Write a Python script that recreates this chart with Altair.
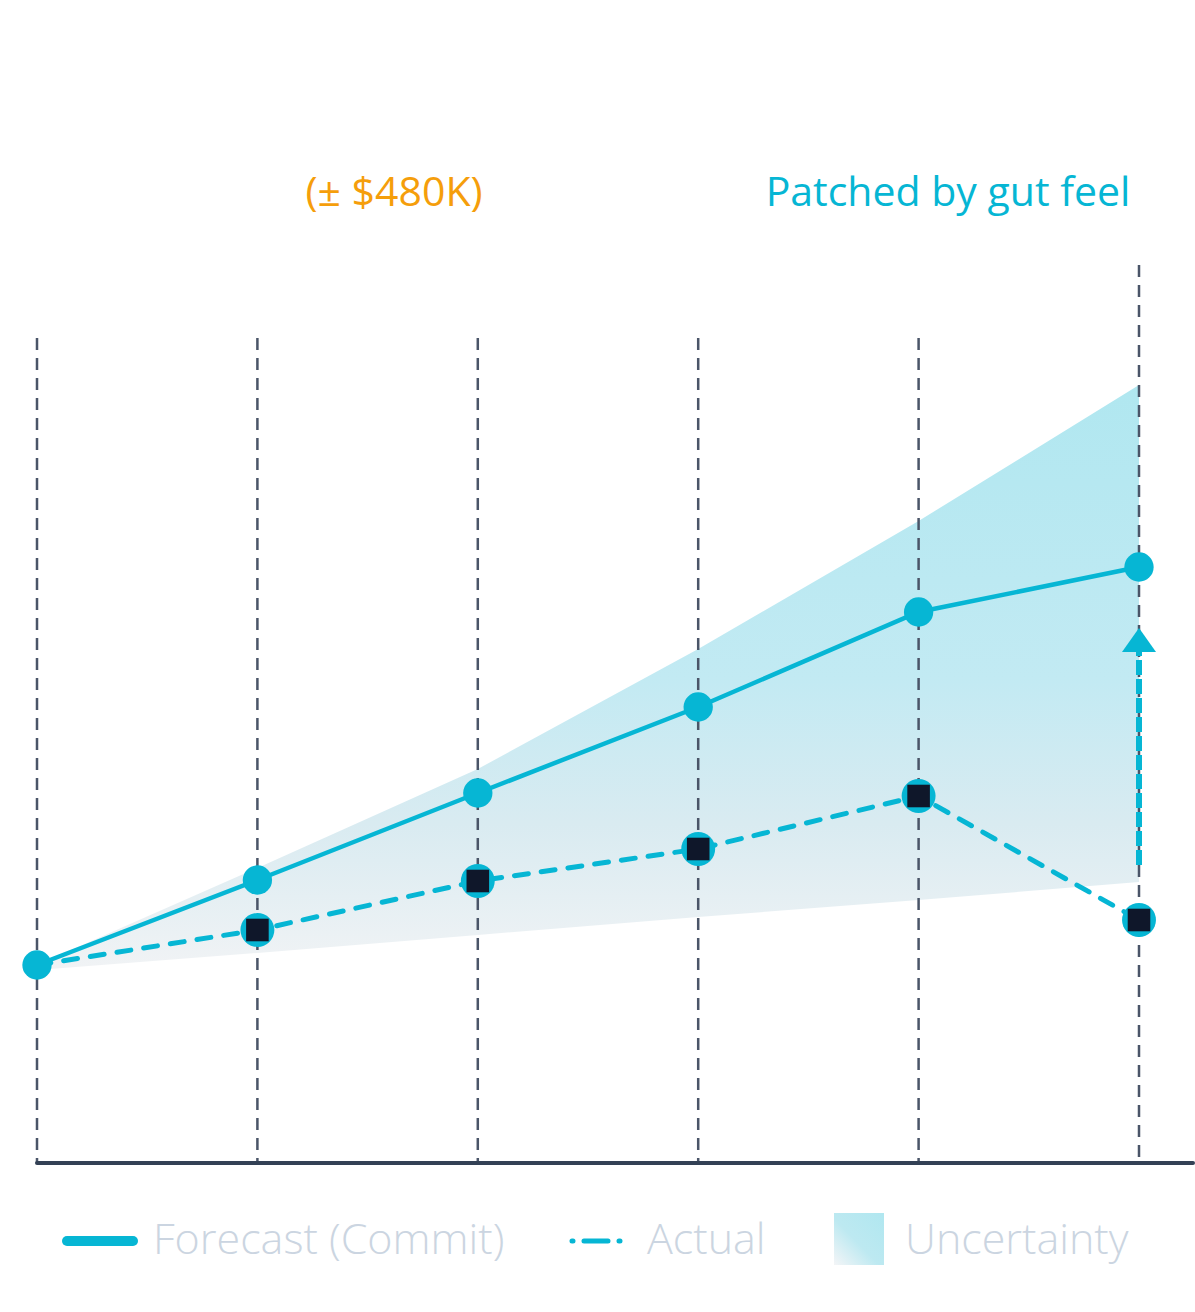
import altair as alt
import pandas as pd

# ---- data ----
quarters = [0, 1, 2, 3, 4, 5]
forecast = [198, 283, 370, 456, 551, 596]
actual = [198, 233, 282, 314, 367, 243]
band_upper = [198, 295, 394, 514, 642, 778]
band_lower = [193, 210, 228, 246, 263, 281]
grid_top = [825, 825, 825, 825, 825, 898]
baseline_end = [5.245]
arrow_from = [298]
arrow_to = [511]
arrow_head = [523]
annotation_left = ["(± $480K)"]
annotation_right = ["Patched by gut feel"]
legend_labels = ["Forecast (Commit)", "Actual", "Uncertainty"]

CYAN = "#06b6d4"
DARK = "#0f172a"
GRID = "#4a5568"
BASE = "#334155"
LEGEND_TXT = "#cbd5e1"
ORANGE = "#f59e0b"
FONT = "Open Sans"

df = pd.DataFrame(dict(q=quarters, forecast=forecast, actual=actual,
                       hi=band_upper, lo=band_lower, top=grid_top))

xs = alt.Scale(domain=[0, 5], nice=False, zero=False)
ys = alt.Scale(domain=[0, 900], nice=False, zero=False)
X = alt.X("q:Q", scale=xs, axis=None)


def Y(f):
    return alt.Y(f, scale=ys, axis=None)


band_grad = alt.Gradient(
    gradient="linear", x1=0, y1=0, x2=0, y2=1,
    stops=[alt.GradientStop(color="#b0e7f0", offset=0),
           alt.GradientStop(color="#c2eaf3", offset=0.5),
           alt.GradientStop(color="#d9ebf1", offset=0.75),
           alt.GradientStop(color="#f1f3f5", offset=1)])

area = alt.Chart(df).mark_area(fill=band_grad, opacity=1, stroke=None).encode(
    x=X, y=Y("hi:Q"), y2="lo:Q")

grid = alt.Chart(df).mark_rule(color=GRID, strokeWidth=2.5, strokeDash=[12, 8]).encode(
    x=X, y=Y("top:Q"), y2=alt.datum(0))

base_df = pd.DataFrame({"q": [0], "q2": baseline_end, "v": [0]})
baseline = alt.Chart(base_df).mark_rule(color=BASE, strokeWidth=4, strokeCap="round").encode(
    x=alt.X("q:Q", scale=xs, axis=None), x2="q2:Q", y=Y("v:Q"))

fc_line = alt.Chart(df).mark_line(color=CYAN, strokeWidth=4.5).encode(x=X, y=Y("forecast:Q"))
act_line = alt.Chart(df).mark_line(color=CYAN, strokeWidth=5, strokeDash=[14, 13],
                                   strokeCap="round").encode(x=X, y=Y("actual:Q"))

arrow_df = pd.DataFrame({"q": [5], "a": arrow_from, "b": arrow_to, "h": arrow_head})
arrow_line = alt.Chart(arrow_df).mark_rule(color=CYAN, strokeWidth=6, strokeDash=[15, 4]).encode(
    x=alt.X("q:Q", scale=xs, axis=None), y=Y("a:Q"), y2="b:Q")
arrow_tip = alt.Chart(arrow_df).mark_point(
    shape="M-1,0.7L0,-0.7L1,0.7Z", size=1156, filled=True, fill=CYAN, opacity=1, strokeWidth=0
).encode(x=alt.X("q:Q", scale=xs, axis=None), y=Y("h:Q"))

fc_pts = alt.Chart(df).mark_circle(size=860, color=CYAN, opacity=1).encode(x=X, y=Y("forecast:Q"))
act_ring = alt.Chart(df).transform_filter("datum.q > 0").mark_circle(
    size=1150, color=CYAN, opacity=1).encode(x=X, y=Y("actual:Q"))
act_sq = alt.Chart(df).transform_filter("datum.q > 0").mark_square(
    size=510, color=DARK, opacity=1).encode(x=X, y=Y("actual:Q"))

# ---- annotations ----
t_left = alt.Chart(pd.DataFrame({"t": annotation_left})).mark_text(
    font=FONT, fontSize=41, color=ORANGE, align="center", baseline="middle").encode(
    text="t:N", x=alt.value(357), y=alt.value(-69))
t_right = alt.Chart(pd.DataFrame({"t": annotation_right})).mark_text(
    font=FONT, fontSize=41, color=CYAN, align="center", baseline="middle").encode(
    text="t:N", x=alt.value(911), y=alt.value(-69))

# ---- legend (manual) ----
leg_solid = alt.Chart(pd.DataFrame({"k": [0]})).mark_rule(
    color=CYAN, strokeWidth=10, strokeCap="round").encode(
    x=alt.value(30), x2=alt.value(96), y=alt.value(978))
leg_dash = alt.Chart(pd.DataFrame({"k": [0]})).mark_rule(
    color=CYAN, strokeWidth=5, strokeCap="round", strokeDash=[1, 11, 24, 11, 1, 40]).encode(
    x=alt.value(535), x2=alt.value(584), y=alt.value(978))
swatch_grad = alt.Gradient(
    gradient="linear", x1=1, y1=0, x2=0, y2=1,
    stops=[alt.GradientStop(color="#b0e7f0", offset=0),
           alt.GradientStop(color="#bde9f1", offset=0.55),
           alt.GradientStop(color="#f4f5f7", offset=1)])
leg_rect = alt.Chart(pd.DataFrame({"k": [0]})).mark_rect(fill=swatch_grad).encode(
    x=alt.value(797), x2=alt.value(847), y=alt.value(950), y2=alt.value(1002))
leg_df = pd.DataFrame({"t": legend_labels, "px": [116, 610, 868]})
leg_text = alt.Chart(leg_df).mark_text(
    font=FONT, fontSize=43, fontWeight=300, color=LEGEND_TXT, align="left", baseline="middle"
).encode(text="t:N", x=alt.X("px:Q", scale=None), y=alt.value(978))

chart = alt.layer(
    area, grid, baseline, act_line, fc_line, arrow_line, arrow_tip,
    act_ring, act_sq, fc_pts, t_left, t_right,
    leg_solid, leg_dash, leg_rect, leg_text
).properties(
    width=1102, height=900,
    padding={"left": 37, "top": 263, "right": 56, "bottom": 149},
    autosize=alt.AutoSizeParams(type="none"),
    background="white",
).configure_view(stroke=None)

chart.save("out.html", embed_options={"renderer": "svg", "actions": False})
